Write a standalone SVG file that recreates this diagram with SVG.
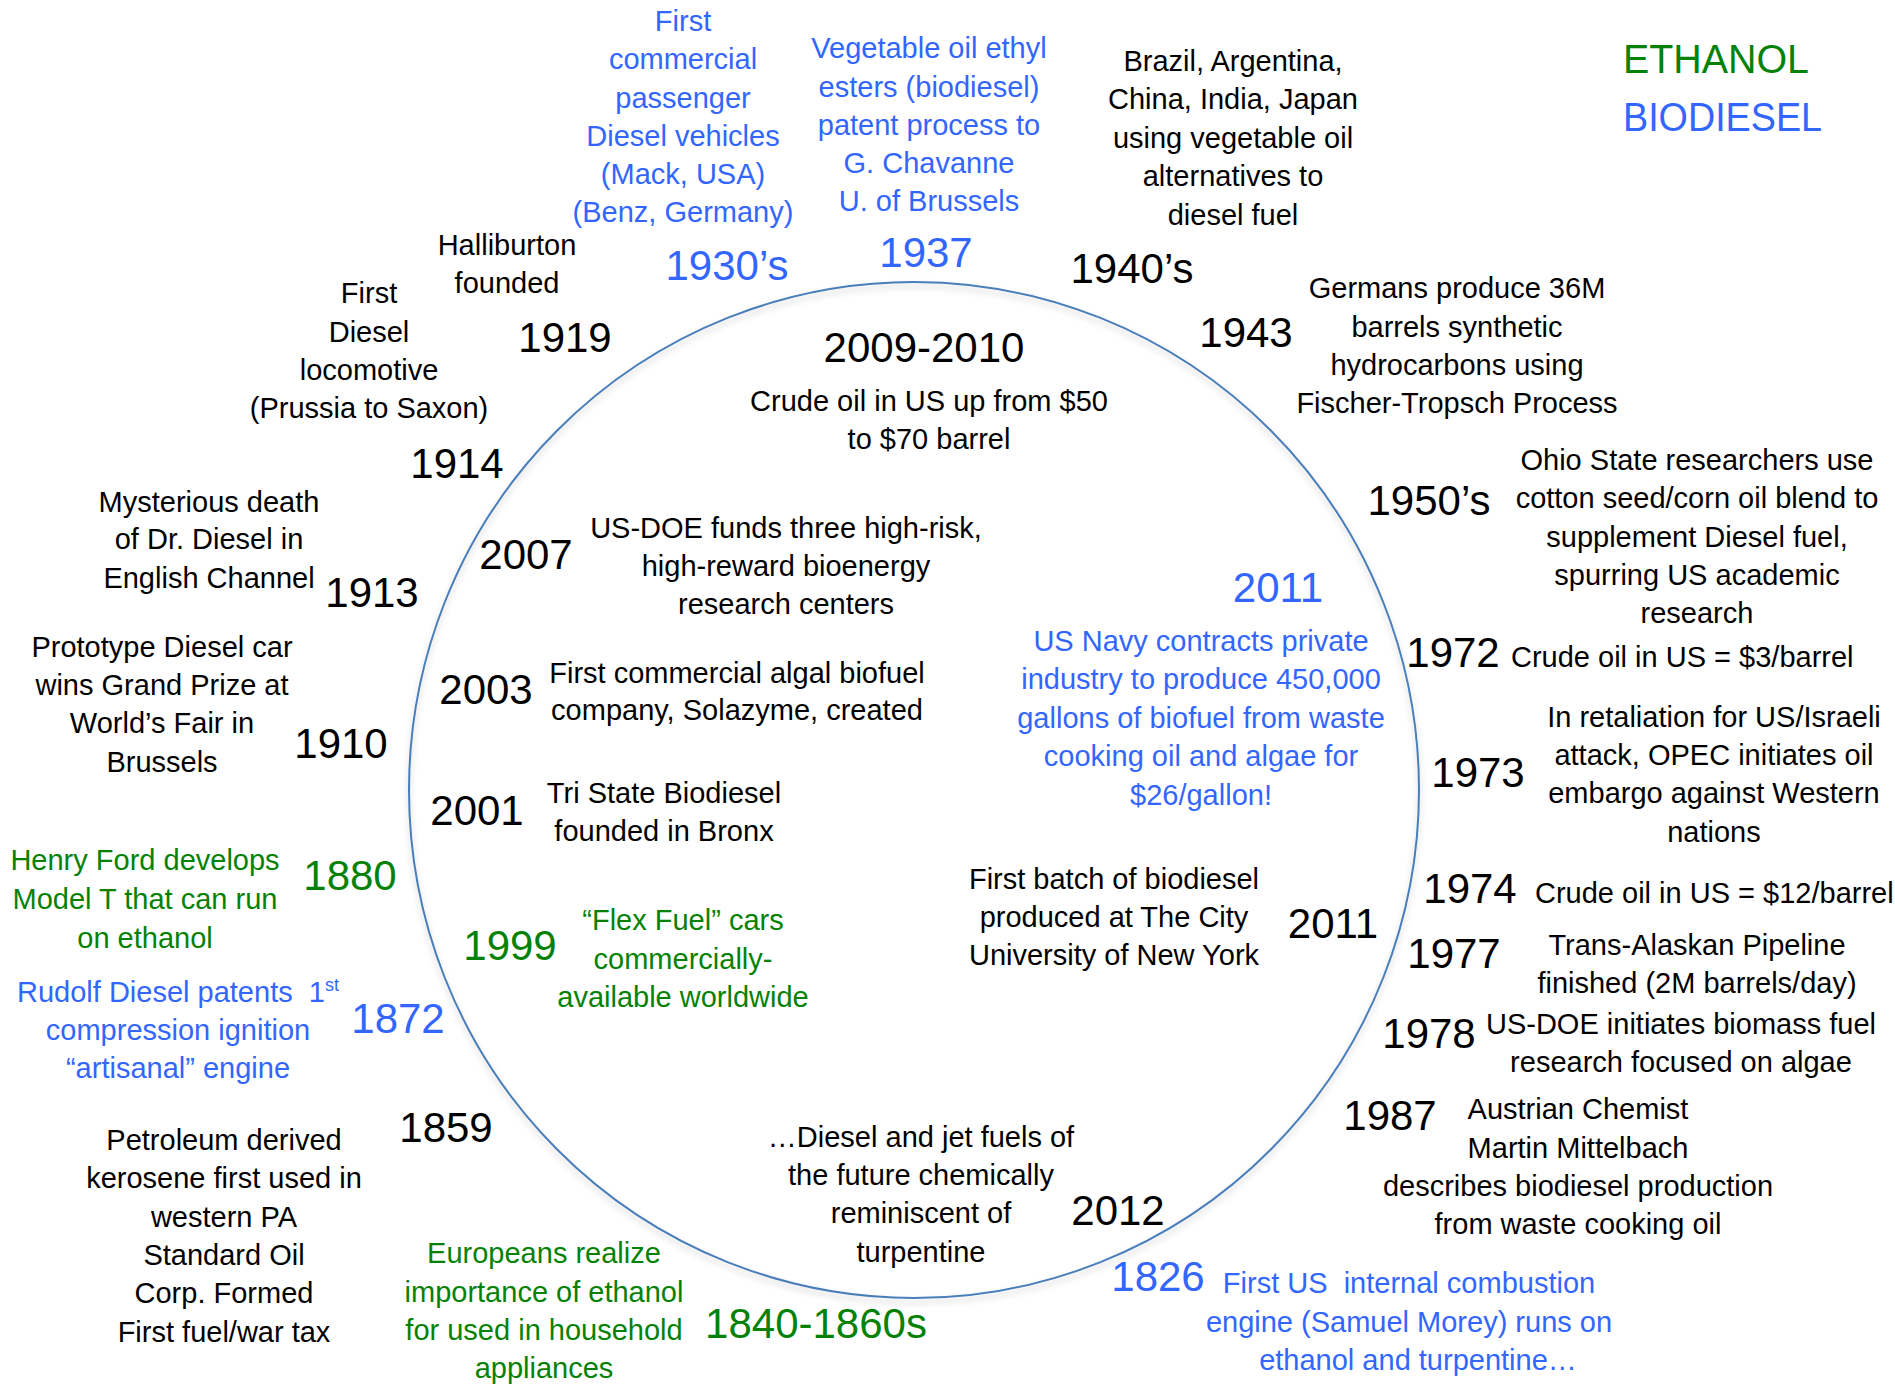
<svg xmlns="http://www.w3.org/2000/svg" width="1895" height="1385" viewBox="0 0 1895 1385">
<defs>
<style>
text{font-family:"Liberation Sans",Arial,sans-serif;text-anchor:middle;fill:#000}
.t{font-size:29px}
.y{font-size:42px}
.g{fill:#058205}
.b{fill:#3366ff}
.s{text-anchor:start}
.lg{font-size:40px;text-anchor:start}
</style>
<filter id="sh" x="-10%" y="-10%" width="120%" height="120%">
<feDropShadow dx="0" dy="4" stdDeviation="3" flood-color="#000" flood-opacity="0.2"/>
</filter>
</defs>
<rect width="1895" height="1385" fill="#fff"/>
<g id="connectors">
<ellipse cx="914" cy="790" rx="505" ry="508" fill="none" stroke="#4a7ebb" stroke-width="2" filter="url(#sh)"/>
</g>
<g id="legend">
<text class="lg g" x="1623" y="73" textLength="186" lengthAdjust="spacingAndGlyphs">ETHANOL</text>
<text class="lg b" x="1623" y="131" textLength="199" lengthAdjust="spacingAndGlyphs">BIODIESEL</text>
</g>
<g id="n1930s">
<text class="t b" x="683"><tspan x="683" y="31">First</tspan><tspan x="683" y="69">commercial</tspan><tspan x="683" y="108">passenger</tspan><tspan x="683" y="146">Diesel vehicles</tspan><tspan x="683" y="184">(Mack, USA)</tspan><tspan x="683" y="222">(Benz, Germany)</tspan></text>
<text class="y b" x="727" y="280">1930’s</text>
</g>
<g id="n1937">
<text class="t b"><tspan x="929" y="58">Vegetable oil ethyl</tspan><tspan x="929" y="97">esters (biodiesel)</tspan><tspan x="929" y="135">patent process to</tspan><tspan x="929" y="173">G. Chavanne</tspan><tspan x="929" y="211">U. of Brussels</tspan></text>
<text class="y b" x="926" y="267">1937</text>
</g>
<g id="n1940s">
<text class="t"><tspan x="1233" y="71">Brazil, Argentina,</tspan><tspan x="1233" y="109">China, India, Japan</tspan><tspan x="1233" y="148">using vegetable oil</tspan><tspan x="1233" y="186">alternatives to</tspan><tspan x="1233" y="225">diesel fuel</tspan></text>
<text class="y" x="1132" y="283">1940’s</text>
</g>
<g id="n1919">
<text class="t"><tspan x="507" y="255">Halliburton</tspan><tspan x="507" y="293">founded</tspan></text>
<text class="y" x="565" y="352">1919</text>
</g>
<g id="n1914">
<text class="t"><tspan x="369" y="303">First</tspan><tspan x="369" y="342">Diesel</tspan><tspan x="369" y="380">locomotive</tspan><tspan x="369" y="418">(Prussia to Saxon)</tspan></text>
<text class="y" x="457" y="478">1914</text>
</g>
<g id="n2009">
<text class="y" x="924" y="362">2009-2010</text>
<text class="t"><tspan x="929" y="411">Crude oil in US up from $50</tspan><tspan x="929" y="449">to $70 barrel</tspan></text>
</g>
<g id="n1943">
<text class="y" x="1246" y="347">1943</text>
<text class="t"><tspan x="1457" y="298">Germans produce 36M</tspan><tspan x="1457" y="337">barrels synthetic</tspan><tspan x="1457" y="375">hydrocarbons using</tspan><tspan x="1457" y="413">Fischer-Tropsch Process</tspan></text>
</g>
<g id="n1950s">
<text class="y" x="1429" y="515">1950’s</text>
<text class="t"><tspan x="1697" y="470">Ohio State researchers use</tspan><tspan x="1697" y="508">cotton seed/corn oil blend to</tspan><tspan x="1697" y="547">supplement Diesel fuel,</tspan><tspan x="1697" y="585">spurring US academic</tspan><tspan x="1697" y="623">research</tspan></text>
</g>
<g id="n1913">
<text class="t"><tspan x="209" y="512">Mysterious death</tspan><tspan x="209" y="549">of Dr. Diesel in</tspan><tspan x="209" y="588">English Channel</tspan></text>
<text class="y" x="372" y="607">1913</text>
</g>
<g id="n2007">
<text class="y" x="526" y="569">2007</text>
<text class="t"><tspan x="786" y="538">US-DOE funds three high-risk,</tspan><tspan x="786" y="576">high-reward bioenergy</tspan><tspan x="786" y="614">research centers</tspan></text>
</g>
<g id="n2011navy">
<text class="y b" x="1278" y="602">2011</text>
<text class="t b"><tspan x="1201" y="651">US Navy contracts private</tspan><tspan x="1201" y="689">industry to produce 450,000</tspan><tspan x="1201" y="728">gallons of biofuel from waste</tspan><tspan x="1201" y="766">cooking oil and algae for</tspan><tspan x="1201" y="805">$26/gallon!</tspan></text>
</g>
<g id="n1972">
<text class="y" x="1453" y="667">1972</text>
<text class="t s" x="1511" y="667">Crude oil in US = $3/barrel</text>
</g>
<g id="n1910">
<text class="t"><tspan x="162" y="657">Prototype Diesel car</tspan><tspan x="162" y="695">wins Grand Prize at</tspan><tspan x="162" y="733">World’s Fair in</tspan><tspan x="162" y="772">Brussels</tspan></text>
<text class="y" x="341" y="758">1910</text>
</g>
<g id="n2003">
<text class="y" x="486" y="704">2003</text>
<text class="t"><tspan x="737" y="683">First commercial algal biofuel</tspan><tspan x="737" y="720">company, Solazyme, created</tspan></text>
</g>
<g id="n1973">
<text class="y" x="1478" y="787">1973</text>
<text class="t"><tspan x="1714" y="727">In retaliation for US/Israeli</tspan><tspan x="1714" y="765">attack, OPEC initiates oil</tspan><tspan x="1714" y="803">embargo against Western</tspan><tspan x="1714" y="842">nations</tspan></text>
</g>
<g id="n2001">
<text class="y" x="477" y="825">2001</text>
<text class="t"><tspan x="664" y="803">Tri State Biodiesel</tspan><tspan x="664" y="841">founded in Bronx</tspan></text>
</g>
<g id="n1880">
<text class="t g"><tspan x="145" y="870">Henry Ford develops</tspan><tspan x="145" y="909">Model T that can run</tspan><tspan x="145" y="948">on ethanol</tspan></text>
<text class="y g" x="350" y="890">1880</text>
</g>
<g id="n2011cuny">
<text class="t"><tspan x="1114" y="889">First batch of biodiesel</tspan><tspan x="1114" y="927">produced at The City</tspan><tspan x="1114" y="965">University of New York</tspan></text>
<text class="y" x="1333" y="938">2011</text>
</g>
<g id="n1974">
<text class="y" x="1470" y="903">1974</text>
<text class="t s" x="1535" y="903">Crude oil in US = $12/barrel</text>
</g>
<g id="n1999">
<text class="y g" x="510" y="960">1999</text>
<text class="t g"><tspan x="683" y="930">“Flex Fuel” cars</tspan><tspan x="683" y="969">commercially-</tspan><tspan x="683" y="1007">available worldwide</tspan></text>
</g>
<g id="n1977">
<text class="y" x="1454" y="968">1977</text>
<text class="t"><tspan x="1697" y="955">Trans-Alaskan Pipeline</tspan><tspan x="1697" y="993">finished (2M barrels/day)</tspan></text>
</g>
<g id="n1872">
<text class="t b" xml:space="preserve"><tspan x="178" y="1002">Rudolf Diesel patents  1<tspan font-size="18" dy="-11">st</tspan></tspan><tspan x="178" y="1040">compression ignition</tspan><tspan x="178" y="1078">“artisanal” engine</tspan></text>
<text class="y b" x="398" y="1033">1872</text>
</g>
<g id="n1978">
<text class="y" x="1429" y="1048">1978</text>
<text class="t"><tspan x="1681" y="1034">US-DOE initiates biomass fuel</tspan><tspan x="1681" y="1072">research focused on algae</tspan></text>
</g>
<g id="n1859">
<text class="y" x="446" y="1142">1859</text>
<text class="t"><tspan x="224" y="1150">Petroleum derived</tspan><tspan x="224" y="1188">kerosene first used in</tspan><tspan x="224" y="1227">western PA</tspan><tspan x="224" y="1265">Standard Oil</tspan><tspan x="224" y="1303">Corp. Formed</tspan><tspan x="224" y="1342">First fuel/war tax</tspan></text>
</g>
<g id="n1987">
<text class="y" x="1390" y="1130">1987</text>
<text class="t"><tspan x="1578" y="1119">Austrian Chemist</tspan><tspan x="1578" y="1158">Martin Mittelbach</tspan><tspan x="1578" y="1196">describes biodiesel production</tspan><tspan x="1578" y="1234">from waste cooking oil</tspan></text>
</g>
<g id="n2012">
<text class="t"><tspan x="921" y="1147">…Diesel and jet fuels of</tspan><tspan x="921" y="1185">the future chemically</tspan><tspan x="921" y="1223">reminiscent of</tspan><tspan x="921" y="1262">turpentine</tspan></text>
<text class="y" x="1118" y="1225">2012</text>
</g>
<g id="n1840">
<text class="t g"><tspan x="544" y="1263">Europeans realize</tspan><tspan x="544" y="1302">importance of ethanol</tspan><tspan x="544" y="1340">for used in household</tspan><tspan x="544" y="1378">appliances</tspan></text>
<text class="y g" x="816" y="1338">1840-1860s</text>
</g>
<g id="n1826">
<text class="y b" x="1158" y="1291">1826</text>
<text class="t b" xml:space="preserve"><tspan x="1409" y="1293">First US  internal combustion</tspan><tspan x="1409" y="1332">engine (Samuel Morey) runs on</tspan><tspan x="1418" y="1370">ethanol and turpentine…</tspan></text>
</g>
</svg>
